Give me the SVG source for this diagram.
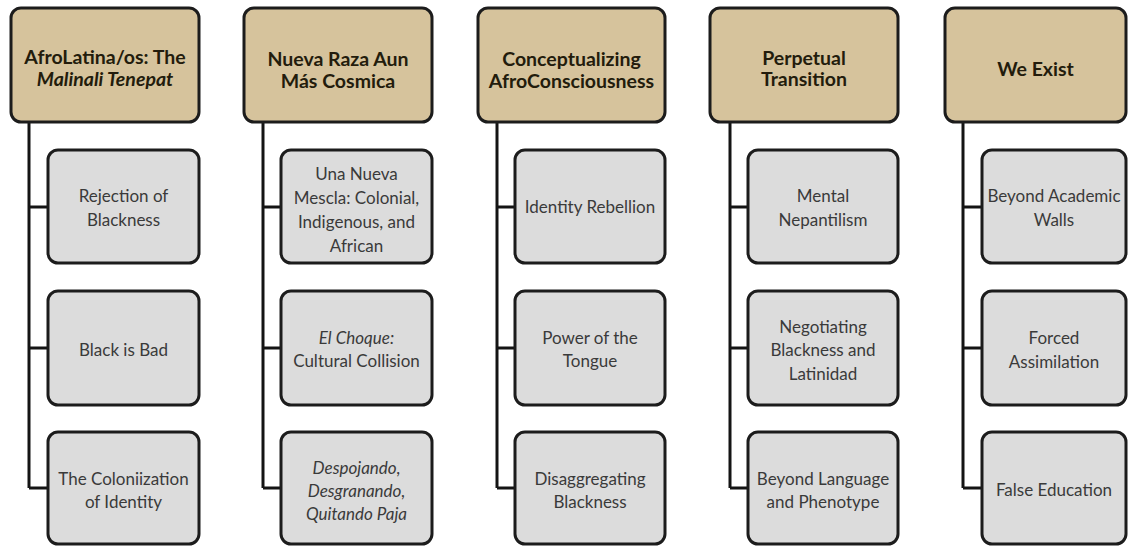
<svg xmlns="http://www.w3.org/2000/svg" width="1128" height="546" viewBox="0 0 1128 546">
<style>
.hd{fill:#d6c39c;stroke:#1c1c1c;stroke-width:3}
.ch{fill:#dcdcdc;stroke:#1c1c1c;stroke-width:3}
.ht{font-family:Lato,"Open Sans",sans-serif;font-weight:bold;font-size:19.5px;fill:#231c0c;text-anchor:middle;dominant-baseline:central}
.ct{font-family:Lato,"Open Sans",sans-serif;font-size:17px;fill:#3a3a3a;text-anchor:middle;dominant-baseline:central}
.it{font-style:italic}
.cn{fill:none;stroke:#141414;stroke-width:3}
</style>
<rect width="1128" height="546" fill="#ffffff"/>
<g id="connectors" class="cn">
<path d="M29,122V488M29,207H48M29,348H48M29,488H48"/>
<path d="M263,122V488M263,207H281M263,348H281M263,488H281"/>
<path d="M497,122V488M497,207H515M497,348H515M497,488H515"/>
<path d="M730,122V488M730,207H748M730,348H748M730,488H748"/>
<path d="M963,122V488M963,207H982M963,348H982M963,488H982"/>
</g>
<g id="h1"><rect class="hd" x="11" y="8" width="188" height="114" rx="10"/><text class="ht" x="105" y="56">AfroLatina/os: The</text><text class="ht it" x="105" y="78">Malinali Tenepat</text></g>
<g id="h2"><rect class="hd" x="244" y="8" width="188" height="114" rx="10"/><text class="ht" x="338" y="58">Nueva Raza Aun</text><text class="ht" x="338" y="80">Más Cosmica</text></g>
<g id="h3"><rect class="hd" x="478" y="8" width="187" height="114" rx="10"/><text class="ht" x="571.5" y="58">Conceptualizing</text><text class="ht" x="571.5" y="80">AfroConsciousness</text></g>
<g id="h4"><rect class="hd" x="710" y="8" width="188" height="114" rx="10"/><text class="ht" x="804" y="57">Perpetual</text><text class="ht" x="804" y="78">Transition</text></g>
<g id="h5"><rect class="hd" x="945" y="8" width="181" height="114" rx="10"/><text class="ht" x="1035.5" y="68">We Exist</text></g>

<g id="c1a"><rect class="ch" x="48" y="150" width="151" height="113" rx="10"/><text class="ct" x="123.5" y="195">Rejection of</text><text class="ct" x="123.5" y="219">Blackness</text></g>
<g id="c1b"><rect class="ch" x="48" y="291" width="151" height="114" rx="10"/><text class="ct" x="123.5" y="349">Black is Bad</text></g>
<g id="c1c"><rect class="ch" x="48" y="432" width="151" height="112" rx="10"/><text class="ct" x="123.5" y="478">The Coloniization</text><text class="ct" x="123.5" y="501">of Identity</text></g>

<g id="c2a"><rect class="ch" x="281" y="150" width="151" height="113" rx="10"/><text class="ct" x="356.5" y="173">Una Nueva</text><text class="ct" x="356.5" y="197">Mescla: Colonial,</text><text class="ct" x="356.5" y="221">Indigenous, and</text><text class="ct" x="356.5" y="245">African</text></g>
<g id="c2b"><rect class="ch" x="281" y="291" width="151" height="114" rx="10"/><text class="ct it" x="356.5" y="337">El Choque:</text><text class="ct" x="356.5" y="360">Cultural Collision</text></g>
<g id="c2c"><rect class="ch" x="281" y="432" width="151" height="112" rx="10"/><text class="ct it" x="356.5" y="467">Despojando,</text><text class="ct it" x="356.5" y="490">Desgranando,</text><text class="ct it" x="356.5" y="513">Quitando Paja</text></g>

<g id="c3a"><rect class="ch" x="515" y="150" width="150" height="113" rx="10"/><text class="ct" x="590" y="206">Identity Rebellion</text></g>
<g id="c3b"><rect class="ch" x="515" y="291" width="150" height="114" rx="10"/><text class="ct" x="590" y="337">Power of the</text><text class="ct" x="590" y="360">Tongue</text></g>
<g id="c3c"><rect class="ch" x="515" y="432" width="150" height="112" rx="10"/><text class="ct" x="590" y="478">Disaggregating</text><text class="ct" x="590" y="501">Blackness</text></g>

<g id="c4a"><rect class="ch" x="748" y="150" width="150" height="113" rx="10"/><text class="ct" x="823" y="195">Mental</text><text class="ct" x="823" y="219">Nepantilism</text></g>
<g id="c4b"><rect class="ch" x="748" y="291" width="150" height="114" rx="10"/><text class="ct" x="823" y="326">Negotiating</text><text class="ct" x="823" y="349">Blackness and</text><text class="ct" x="823" y="373">Latinidad</text></g>
<g id="c4c"><rect class="ch" x="748" y="432" width="150" height="112" rx="10"/><text class="ct" x="823" y="478">Beyond Language</text><text class="ct" x="823" y="501">and Phenotype</text></g>

<g id="c5a"><rect class="ch" x="982" y="150" width="144" height="113" rx="10"/><text class="ct" x="1054" y="195">Beyond Academic</text><text class="ct" x="1054" y="219">Walls</text></g>
<g id="c5b"><rect class="ch" x="982" y="291" width="144" height="114" rx="10"/><text class="ct" x="1054" y="337">Forced</text><text class="ct" x="1054" y="361">Assimilation</text></g>
<g id="c5c"><rect class="ch" x="982" y="432" width="144" height="112" rx="10"/><text class="ct" x="1054" y="489">False Education</text></g>
</svg>
